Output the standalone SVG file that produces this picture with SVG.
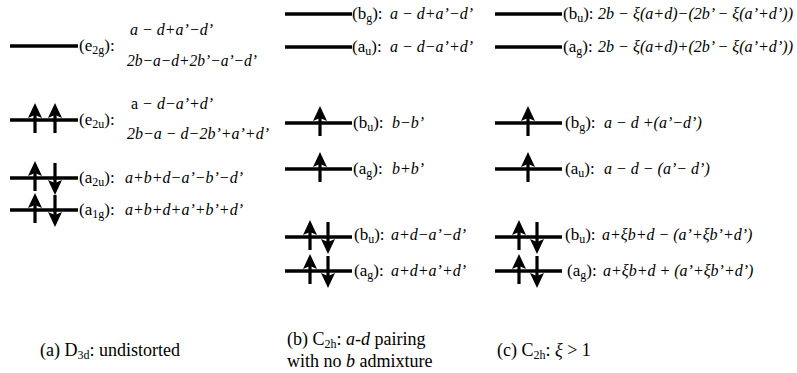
<svg xmlns="http://www.w3.org/2000/svg" width="797" height="373" viewBox="0 0 797 373">
<style>
text{font-family:"Liberation Serif",Tinos,"Times New Roman","DejaVu Serif",serif;font-size:16px;fill:#000}
.ex{font-style:italic}
.lb{font-size:17px}
.cap{font-size:18px}
.lv{stroke:#000;stroke-width:3.5}
</style>
<defs>
<g id="up"><rect x="-1.6" y="-7" width="3.2" height="20"/><polygon points="0,-17 -7,-2 0,-5 7,-2"/></g>
<g id="dn"><rect x="-1.6" y="-15" width="3.2" height="20"/><polygon points="0,17 -7,2 0,5 7,2"/></g>
</defs>
<rect width="797" height="373" fill="#fff"/>

<g id="a-e2g">
<line class="lv" x1="10" y1="46" x2="78" y2="46"/>
<text class="lb" x="79" y="51">(e<tspan font-size="12" dy="3">2g</tspan><tspan dy="-3">):</tspan></text>
<text class="ex" x="130" y="35">a − d+a’−d’</text>
<text class="ex" x="127" y="66" textLength="130" lengthAdjust="spacingAndGlyphs">2b−a−d+2b’−a’−d’</text>
</g>
<g id="a-e2u">
<line class="lv" x1="10" y1="120" x2="78" y2="120"/>
<use href="#up" x="35" y="120"/><use href="#up" x="55" y="120"/>
<text class="lb" x="79" y="125">(e<tspan font-size="12" dy="3">2u</tspan><tspan dy="-3">):</tspan></text>
<text class="ex" x="131" y="109"><tspan font-style="normal">a</tspan> − d−a’+d’</text>
<text class="ex" x="127" y="139">2b−a − d−2b’+a’+d’</text>
</g>
<g id="a-a2u">
<line class="lv" x1="10" y1="178" x2="78" y2="178"/>
<use href="#up" x="35" y="178"/><use href="#dn" x="55" y="178"/>
<text class="lb" x="79" y="183">(a<tspan font-size="12" dy="3">2u</tspan><tspan dy="-3">):</tspan></text>
<text class="ex" x="125" y="183">a+b+d−a’−b’−d’</text>
</g>
<g id="a-a1g">
<line class="lv" x1="10" y1="210" x2="78" y2="210"/>
<use href="#up" x="35" y="210"/><use href="#dn" x="55" y="210"/>
<text class="lb" x="79" y="215">(a<tspan font-size="12" dy="3">1g</tspan><tspan dy="-3">):</tspan></text>
<text class="ex" x="125" y="215">a+b+d+a’+b’+d’</text>
</g>

<g id="b-bg">
<line class="lv" x1="285" y1="14" x2="352" y2="14"/>
<text class="lb" x="352" y="19">(b<tspan font-size="12" dy="3">g</tspan><tspan dy="-3">):</tspan></text>
<text class="ex" x="390" y="19">a − d+a’−d’</text>
</g>
<g id="b-au">
<line class="lv" x1="285" y1="47" x2="352" y2="47"/>
<text class="lb" x="352" y="52">(a<tspan font-size="12" dy="3">u</tspan><tspan dy="-3">):</tspan></text>
<text class="ex" x="390" y="52">a − d−a’+d’</text>
</g>
<g id="b-bu1">
<line class="lv" x1="285" y1="123" x2="352" y2="123"/>
<use href="#up" x="320" y="123"/>
<text class="lb" x="353" y="128">(b<tspan font-size="12" dy="3">u</tspan><tspan dy="-3">):</tspan></text>
<text class="ex" x="392" y="128">b−b’</text>
</g>
<g id="b-ag1">
<line class="lv" x1="285" y1="169" x2="352" y2="169"/>
<use href="#up" x="320" y="169"/>
<text class="lb" x="353" y="174">(a<tspan font-size="12" dy="3">g</tspan><tspan dy="-3">):</tspan></text>
<text class="ex" x="392" y="174">b+b’</text>
</g>
<g id="b-bu2">
<line class="lv" x1="285" y1="237" x2="352" y2="237"/>
<use href="#up" x="310" y="237"/><use href="#dn" x="328" y="237"/>
<text class="lb" x="354" y="240">(b<tspan font-size="12" dy="3">u</tspan><tspan dy="-3">):</tspan></text>
<text class="ex" x="391" y="240">a+d−a’−d’</text>
</g>
<g id="b-ag2">
<line class="lv" x1="285" y1="271" x2="352" y2="271"/>
<use href="#up" x="310" y="271"/><use href="#dn" x="328" y="271"/>
<text class="lb" x="354" y="276">(a<tspan font-size="12" dy="3">g</tspan><tspan dy="-3">):</tspan></text>
<text class="ex" x="391" y="276">a+d+a’+d’</text>
</g>

<g id="c-bu1">
<line class="lv" x1="495" y1="14" x2="562" y2="14"/>
<text class="lb" x="563" y="19">(b<tspan font-size="12" dy="3">u</tspan><tspan dy="-3">):</tspan></text>
<text class="ex" x="598" y="19" textLength="195" lengthAdjust="spacingAndGlyphs">2b − ξ(a+d)−(2b’ − ξ(a’+d’))</text>
</g>
<g id="c-ag1">
<line class="lv" x1="495" y1="47" x2="562" y2="47"/>
<text class="lb" x="563" y="52">(a<tspan font-size="12" dy="3">g</tspan><tspan dy="-3">):</tspan></text>
<text class="ex" x="598" y="52" textLength="195" lengthAdjust="spacingAndGlyphs">2b − ξ(a+d)+(2b’ − ξ(a’+d’))</text>
</g>
<g id="c-bg">
<line class="lv" x1="495" y1="123" x2="562" y2="123"/>
<use href="#up" x="528" y="123"/>
<text class="lb" x="565" y="128">(b<tspan font-size="12" dy="3">g</tspan><tspan dy="-3">):</tspan></text>
<text class="ex" x="604" y="128">a − d +(a’−d’)</text>
</g>
<g id="c-au">
<line class="lv" x1="495" y1="169" x2="562" y2="169"/>
<use href="#up" x="528" y="169"/>
<text class="lb" x="565" y="174">(a<tspan font-size="12" dy="3">u</tspan><tspan dy="-3">):</tspan></text>
<text class="ex" x="604" y="174">a − d − (a’− d’)</text>
</g>
<g id="c-bu2">
<line class="lv" x1="495" y1="237" x2="562" y2="237"/>
<use href="#up" x="519" y="237"/><use href="#dn" x="537" y="237"/>
<text class="lb" x="565" y="240">(b<tspan font-size="12" dy="3">u</tspan><tspan dy="-3">):</tspan></text>
<text class="ex" x="602" y="240">a+ξb+d − (a’+ξb’+d’)</text>
</g>
<g id="c-ag2">
<line class="lv" x1="495" y1="271" x2="562" y2="271"/>
<use href="#up" x="519" y="271"/><use href="#dn" x="537" y="271"/>
<text class="lb" x="567" y="276">(a<tspan font-size="12" dy="3">g</tspan><tspan dy="-3">):</tspan></text>
<text class="ex" x="603" y="276">a+ξb+d + (a’+ξb’+d’)</text>
</g>

<g id="captions">
<text class="cap" x="40" y="356">(a) D<tspan font-size="12" dy="3">3d</tspan><tspan dy="-3">: undistorted</tspan></text>
<text class="cap" x="287" y="345">(b) C<tspan font-size="12" dy="3">2h</tspan><tspan dy="-3">: </tspan><tspan class="ex">a-d</tspan> pairing</text>
<text class="cap" x="287" y="367">with no <tspan class="ex">b</tspan> admixture</text>
<text class="cap" x="497" y="356">(c) C<tspan font-size="12" dy="3">2h</tspan><tspan dy="-3">: </tspan><tspan class="ex">ξ</tspan> &gt; 1</text>
</g>
</svg>
